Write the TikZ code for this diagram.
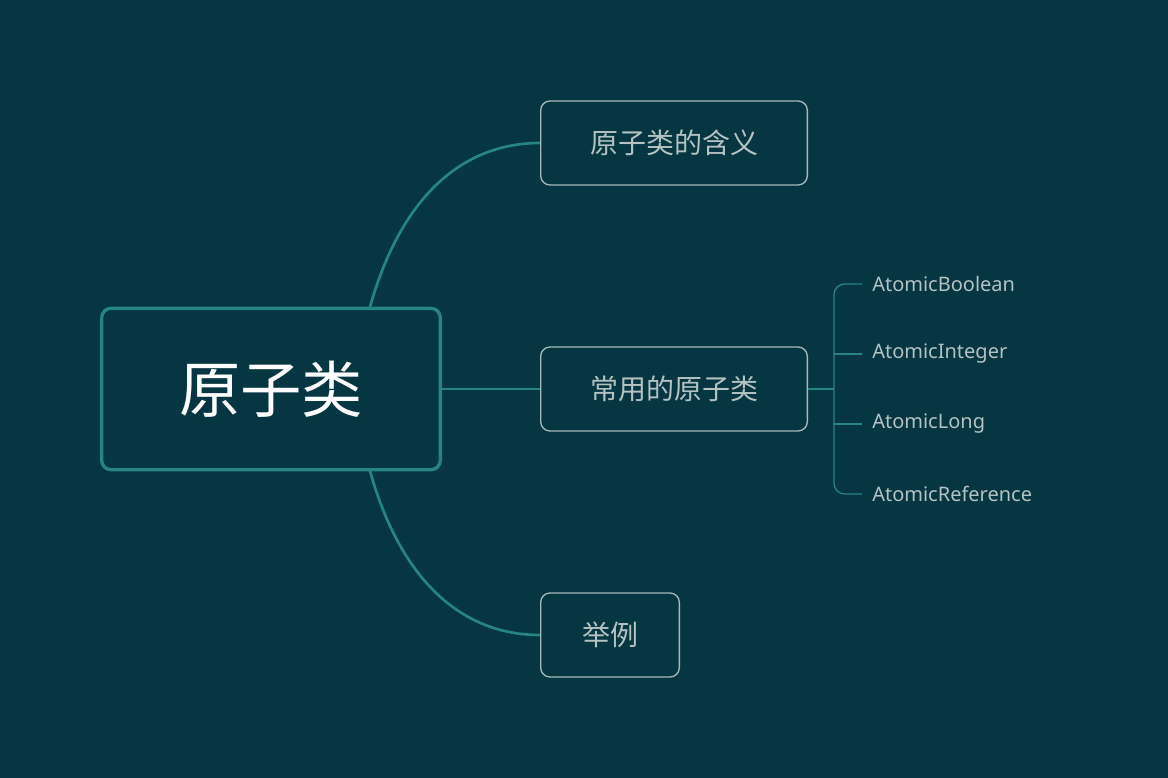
\documentclass[tikz,border=0pt]{standalone}
\usepackage{fontspec}
\setmainfont{Noto Sans}
\newfontfamily\cjk{Noto Sans CJK SC}
\definecolor{bg}{HTML}{053642}
\definecolor{teal}{HTML}{268580}
\definecolor{boxline}{HTML}{A8B8B8}
\definecolor{txt}{HTML}{B4C2C2}
\begin{document}
\begin{tikzpicture}[x=0.75pt,y=-0.75pt,
  root/.style={draw=teal,line width=2.5pt,rounded corners=7pt,fill=bg,minimum width=254pt,minimum height=121pt,font=\cjk\fontsize{46}{50}\selectfont,text=white,inner sep=0pt},
  child/.style={draw=boxline,line width=1pt,rounded corners=7pt,fill=bg,minimum height=63pt,font=\cjk\fontsize{21}{24}\selectfont,text=txt,inner sep=0pt},
  leaf/.style={font=\fontsize{15}{18}\selectfont,text=txt,anchor=west,inner sep=0pt},
  conn/.style={draw=teal,line width=2pt},
  thin/.style={draw=teal,line width=1pt}]
\fill[bg] (0,0) rectangle (1168,778);
\node[root] (r) at (271,389) {原子类};
\node[child,minimum width=200pt] (a) at (674,143) {原子类的含义};
\node[child,minimum width=200pt] (b) at (674,389) {常用的原子类};
\node[child,minimum width=104pt] (c) at (610,635) {举例};
\node[leaf] (l1) at (872,284) {AtomicBoolean};
\node[leaf] (l2) at (872,354) {AtomicInteger};
\node[leaf] (l3) at (872,424) {AtomicLong};
\node[leaf] (l4) at (872,494) {AtomicReference};
\coordinate (rt) at (370,307);
\coordinate (rb) at (370,471);
\draw[conn] (rt) .. controls (400,200) and (460,143) .. (a.west);
\draw[conn] (r.east) -- (b.west);
\draw[conn] (rb) .. controls (400,578) and (460,635) .. (c.west);
\coordinate (j) at (834,389);
\draw[thin] (b.east) -- (j);
\draw[thin,rounded corners=8pt] (862,284) -- (834,284) -- (834,494) -- (862,494);
\draw[thin] (834,354) -- (862,354);
\draw[thin] (834,424) -- (862,424);
\end{tikzpicture}
\end{document}
